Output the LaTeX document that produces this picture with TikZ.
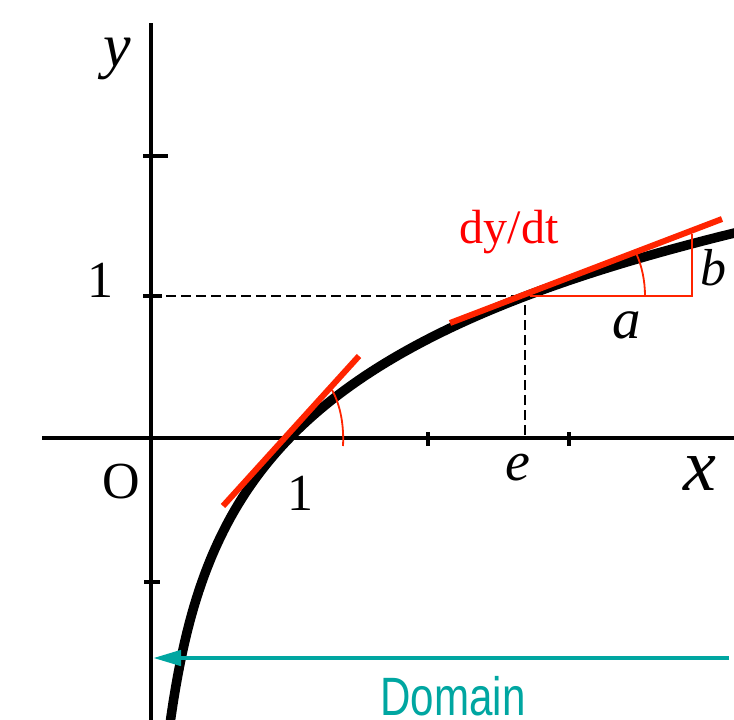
\documentclass[tikz,border=0pt]{standalone}
\usepackage{fontspec}
\setmainfont{Liberation Serif}
\newfontfamily\domfont[FakeStretch=0.78]{Liberation Sans}
\usetikzlibrary{arrows.meta}
\definecolor{tanred}{RGB}{255,36,0}
\definecolor{labred}{RGB}{255,0,0}
\definecolor{domteal}{RGB}{0,166,161}
\begin{document}
\begin{tikzpicture}[x=1pt,y=-1pt,
  axis/.style={black, line width=3.5pt},
  tickmark/.style={black, line width=4pt},
  curve/.style={black, line width=9.5pt},
  tangent/.style={tanred, line width=6pt},
  thinred/.style={tanred, line width=1.8pt},
  guide/.style={black, line width=2pt, dash pattern=on 10pt off 5pt},
  lab/.style={inner sep=0pt, anchor=base},
  domarrow/.style={domteal, line width=4.5pt, -{Triangle[length=28pt,width=15pt]}}
]
\useasboundingbox (0,0) rectangle (734,720);
% axes
\coordinate (xstart) at (42,438);
\coordinate (xend) at (736,438);
\coordinate (ytop) at (151,23);
\coordinate (ybot) at (151,722);
\draw[axis] (xstart) -- (xend);
\draw[axis] (ybot) -- (ytop);
% ticks
\draw[tickmark] (143,156) -- (168,156);
\draw[tickmark] (143,296) -- (162,296);
\draw[tickmark] (144,582) -- (160,582);
\draw[tickmark] (428,432) -- (428,446);
\draw[tickmark] (569,432) -- (569,446);
% guides
\coordinate (g1) at (151,296);
\coordinate (g2) at (520,296);
\coordinate (g3) at (525,305);
\coordinate (g4) at (525,438);
\draw[guide] (g1) -- (g2);
\draw[guide] (g3) -- (g4);
% curve y = ln x
\draw[curve] plot[domain=0.12:4.3, samples=250, variable=\t] ({152+137.5*\t},{438-142*ln(\t)});
% triangle and angle marks
\coordinate (t1) at (530,296);
\coordinate (t2) at (692,296);
\coordinate (t3) at (692,234);
\draw[thinred] (t1) -- (t2) -- (t3);
\draw[thinred] (636,253) .. controls (642,266) and (645,281) .. (645,296);
\draw[thinred] (332,390) .. controls (341,406) and (344,427) .. (343,446);
% tangents
\coordinate (ta1) at (223,506);
\coordinate (ta2) at (359,356);
\coordinate (tb1) at (450,323);
\coordinate (tb2) at (722,219);
\draw[tangent] (ta1) -- (ta2);
\draw[tangent] (tb1) -- (tb2);
% domain arrow
\coordinate (dA) at (729,658);
\coordinate (dB) at (153,658);
\draw[domarrow] (dA) -- (dB);
% labels
\node[lab, font=\fontsize{62}{62}\selectfont\itshape] (ylab) at (117,66) {y};
\node[lab, font=\fontsize{52}{52}\selectfont] (oney) at (100,297) {1};
\node[lab, font=\fontsize{52}{52}\selectfont] (olab) at (121,498) {O};
\node[lab, font=\fontsize{52}{52}\selectfont] (onex) at (300,510) {1};
\node[lab, font=\fontsize{56}{56}\selectfont\itshape] (elab) at (518,480) {e};
\node[lab, font=\fontsize{74}{74}\selectfont\itshape] (xlab) at (700,490) {x};
\node[lab, font=\fontsize{57}{57}\selectfont\itshape] (alab) at (627,338) {a};
\node[lab, font=\fontsize{52}{52}\selectfont\itshape] (blab) at (713,285) {b};
\node[lab, font=\fontsize{48}{48}\selectfont, text=labred] (dydt) at (509,243) {dy/dt};
\node[lab, font=\domfont\fontsize{54}{54}\selectfont, text=domteal] (dom) at (453,715) {Domain};
\end{tikzpicture}
\end{document}
